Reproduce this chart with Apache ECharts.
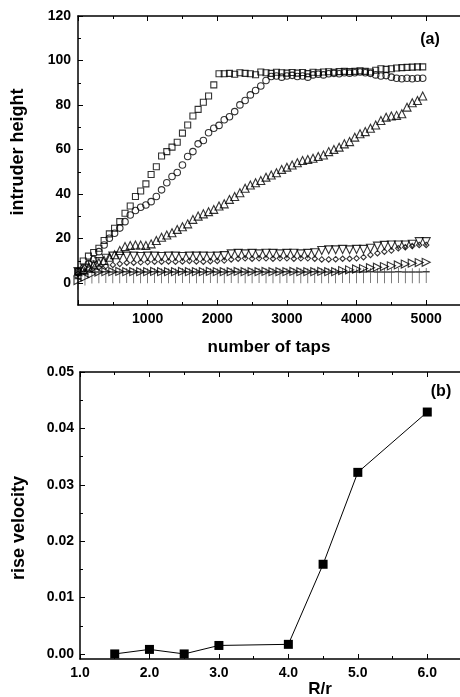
<!DOCTYPE html>
<html>
<head>
<meta charset="utf-8">
<script src="https://cdn.jsdelivr.net/npm/echarts@6/dist/echarts.min.js"></script>
<style>
  html, body { margin: 0; padding: 0; background: #fff; }
  #container { width: 460px; height: 697px; }
</style>
</head>
<body>
<div id="container"></div>
<script>
// panel (a): tap counts for the dense series (squares, circles, up triangles)
const tapsA = [0, 75, 150, 225, 300, 375, 450, 525, 600, 675,
    750, 825, 900, 975, 1050, 1125, 1200, 1275, 1350, 1425,
    1500, 1575, 1650, 1725, 1800, 1875, 1950, 2025, 2100, 2175,
    2250, 2325, 2400, 2475, 2550, 2625, 2700, 2775, 2850, 2925,
    3000, 3075, 3150, 3225, 3300, 3375, 3450, 3525, 3600, 3675,
    3750, 3825, 3900, 3975, 4050, 4125, 4200, 4275, 4350, 4425,
    4500, 4575, 4650, 4725, 4800, 4875, 4950];

const squares = [5, 9.8, 12, 13.6, 15.5, 19, 22, 24.5, 27.5, 31.3,
    34.5, 38.8, 41.3, 44.5, 48.7, 52.2, 57, 59, 61, 63.2,
    67.3, 71, 75, 78, 81.2, 84, 89, 94, 94, 94.2,
    93.8, 94.5, 94.2, 94, 93.6, 94.8, 94.5, 94.2, 94.7, 94.5,
    94.3, 94.6, 94.3, 94.6, 94.1, 94.7, 94.5, 94.8, 94.9, 94.7,
    95, 95.1, 95, 95.1, 95.3, 95.1, 94.8, 95.6, 96.3, 96,
    96.3, 96.6, 96.8, 96.9, 97, 97.1, 97.1];

const circles = [5, 6.5, 8.5, 10.5, 14, 17, 20, 22.3, 24.6, 27.5,
    30.5, 32.5, 34, 35, 36.5, 38.8, 41.8, 45, 47.8, 49.6,
    53, 56.8, 59, 62.5, 64, 67.5, 69.5, 70.8, 73.3, 74.7,
    77, 80, 82, 84.5, 86.5, 88.5, 91, 92.8, 93, 92.5,
    93, 93.3, 92.8, 93, 92.5, 93.5, 93.8, 93.5, 94, 94.2,
    94, 94.5, 94.3, 94.5, 94.8, 94.5, 94.2, 93.5, 93, 93.2,
    92.5, 92, 91.8, 92, 91.8, 92, 92];

const triUp = [5, 6, 7, 8, 9, 10, 11.5, 12.6, 14.5, 16.3,
    16.8, 17, 17, 16.8, 17.5, 19, 20.5, 21.5, 22.5, 24,
    25.2, 26.5, 28.5, 30, 31, 32, 33, 34.5, 35.5, 37.5,
    38.8, 40.5, 42.5, 44, 45, 46, 47.5, 48.5, 49.5, 51,
    52, 53, 54, 55, 55.5, 56, 56.8, 57.5, 59, 60,
    61, 62.5, 63.5, 65.5, 67, 68, 69.5, 71, 73, 74.5,
    75, 75.3, 76, 79, 81, 82, 84];

// panel (a): tap counts for the low series
const tapsB = [0, 100, 200, 300, 400, 500, 600, 700, 800, 900,
    1000, 1100, 1200, 1300, 1400, 1500, 1600, 1700, 1800, 1900,
    2000, 2100, 2200, 2300, 2400, 2500, 2600, 2700, 2800, 2900,
    3000, 3100, 3200, 3300, 3400, 3500, 3600, 3700, 3800, 3900,
    4000, 4100, 4200, 4300, 4400, 4500, 4600, 4700, 4800, 4900,
    5000];

const triDown = [5, 6.5, 8, 9.5, 11, 12, 12, 12, 12, 11.8,
    12, 12, 11.8, 12, 12, 11.8, 12, 12, 12, 11.9,
    12, 12.2, 13, 13.2, 13, 13.2, 13, 13.3, 13.2, 13,
    13.2, 13.3, 13, 13.2, 13.5, 14.5, 14.8, 14.8, 15, 14.8,
    15, 15, 15.5, 16.5, 16.8, 17, 17, 17, 17.3, 18.5,
    18.5];

const diamonds = [4, 5, 6, 7, 7.5, 8, 8.5, 9, 9, 9.2,
    9.3, 9.5, 9.5, 9.6, 9.5, 9.6, 9.8, 9.6, 9.5, 9.7,
    9.8, 10, 10.5, 10.8, 11, 10.8, 11, 11, 10.8, 11,
    11, 10.8, 11, 11, 10.8, 10.5, 10.5, 10.6, 10.8, 10.8,
    11, 11.5, 12.5, 13.3, 14, 14.5, 15.5, 16, 16.5, 17,
    17];

const triRight = [1, 2.5, 4, 4.8, 5, 5, 5.1, 5, 5, 5,
    5, 5.1, 5, 5, 5, 5.1, 5, 5, 5, 5.1,
    5, 5, 5, 5.1, 5, 5, 5, 5.1, 5, 5,
    5, 5.1, 5, 5, 5, 5.1, 5, 5, 5.5, 5.8,
    6.2, 6.4, 6.8, 7, 7.3, 7.6, 8, 8.4, 8.8, 9.1,
    9.2];

const pluses = [2, 4, 4.8, 5, 5.1, 5, 5, 5.1, 5, 5,
    5, 5.1, 5, 5, 5, 5.1, 5, 5, 5, 5.1,
    5, 5, 5.1, 5, 5, 5, 5.1, 5, 5, 5,
    5.1, 5, 5, 5, 5.1, 5, 5, 5, 5.1, 5,
    5, 5, 5.1, 5, 5, 5, 5.1, 5, 5, 5,
    5.1];

// panel (b)
const ratio = [1.5, 2.0, 2.5, 3.0, 4.0, 4.5, 5.0, 6.0];
const riseVelocity = [0.0000, 0.0008, 0.0000, 0.0015, 0.0017, 0.0159, 0.0322, 0.0429];

const FONT = '"Liberation Sans", Arial, sans-serif';
const black = '#000';

function pairs(xs, ys) {
    return xs.map((x, i) => [x, ys[i]]);
}

const tickStyle = {
    axisTick: { show: true, inside: true, length: 5, lineStyle: { color: black, width: 1 } },
    minorTick: { show: true, splitNumber: 2, length: 3, lineStyle: { color: black, width: 1 } },
    splitLine: { show: false },
    minorSplitLine: { show: false }
};
const lineStyle = { show: true, onZero: false, lineStyle: { color: black, width: 1.5 } };
const labelStyle = { color: black, fontFamily: FONT, fontWeight: 'bold', fontSize: 14 };

function hollow(name, symbol, size, xs, ys, extra) {
    return Object.assign({
        name: name,
        type: 'scatter',
        xAxisIndex: 0,
        yAxisIndex: 0,
        symbol: symbol,
        symbolSize: size,
        silent: true,
        itemStyle: { color: 'rgba(255,255,255,0)', borderColor: black, borderWidth: 1.1 },
        data: pairs(xs, ys)
    }, extra || {});
}

var dom = document.getElementById('container');
var myChart = echarts.init(dom, null, { renderer: 'canvas' });

var option = {
    animation: false,
    backgroundColor: '#fff',
    grid: [
        { left: 78, top: 16, width: 383, height: 289, outerBoundsMode: 'none' },
        { left: 78, top: 16, width: 383, height: 267, outerBoundsMode: 'none' },
        { left: 80, top: 372, width: 382, height: 287, outerBoundsMode: 'none' },
        { left: 80, top: 372, width: 382, height: 282, outerBoundsMode: 'none' }
    ],
    xAxis: [
        Object.assign({
            gridIndex: 0, type: 'value', position: 'bottom', min: 0, max: 5500, interval: 1000,
            axisLine: lineStyle,
            axisLabel: Object.assign({ margin: 7, formatter: v => (v >= 1000 && v <= 5000 ? String(v) : '') }, labelStyle)
        }, tickStyle),
        Object.assign({
            gridIndex: 0, type: 'value', position: 'top', min: 0, max: 5500, interval: 1000,
            axisLine: lineStyle, axisLabel: { show: false }
        }, tickStyle),
        { gridIndex: 1, type: 'value', show: false, min: 0, max: 1 },
        Object.assign({
            gridIndex: 2, type: 'value', position: 'bottom', min: 1, max: 6.5, interval: 1,
            axisLine: lineStyle,
            axisLabel: Object.assign({ margin: 7, formatter: v => (v <= 6 ? v.toFixed(1) : '') }, labelStyle)
        }, tickStyle),
        Object.assign({
            gridIndex: 2, type: 'value', position: 'top', min: 1, max: 6.5, interval: 1,
            axisLine: lineStyle, axisLabel: { show: false }
        }, tickStyle),
        { gridIndex: 3, type: 'value', show: false, min: 0, max: 1 }
    ],
    yAxis: [
        {
            gridIndex: 0, type: 'value', min: -10, max: 120,
            axisLine: lineStyle, axisTick: { show: false }, axisLabel: { show: false },
            splitLine: { show: false }
        },
        Object.assign({
            gridIndex: 1, type: 'value', min: 0, max: 120, interval: 20,
            axisLine: { show: false, onZero: false },
            axisLabel: Object.assign({ margin: 7 }, labelStyle)
        }, tickStyle),
        {
            gridIndex: 2, type: 'value', min: -0.0009, max: 0.05,
            axisLine: lineStyle, axisTick: { show: false }, axisLabel: { show: false },
            splitLine: { show: false }
        },
        Object.assign({
            gridIndex: 3, type: 'value', min: 0, max: 0.05, interval: 0.01,
            axisLine: { show: false, onZero: false },
            axisLabel: Object.assign({ margin: 6, formatter: v => v.toFixed(2) }, labelStyle)
        }, tickStyle)
    ],
    graphic: [
        { type: 'text', x: 18, y: 152, rotation: Math.PI / 2,
          style: { text: 'intruder height', fill: black, font: 'bold 18px ' + FONT, textAlign: 'center', textVerticalAlign: 'middle' } },
        { type: 'text', x: 269, y: 347,
          style: { text: 'number of taps', fill: black, font: 'bold 17px ' + FONT, textAlign: 'center', textVerticalAlign: 'middle' } },
        { type: 'text', x: 430, y: 40,
          style: { text: '(a)', fill: black, font: 'bold 16px ' + FONT, textAlign: 'center', textVerticalAlign: 'middle' } },
        { type: 'text', x: 19, y: 528, rotation: Math.PI / 2,
          style: { text: 'rise velocity', fill: black, font: 'bold 18px ' + FONT, textAlign: 'center', textVerticalAlign: 'middle' } },
        { type: 'text', x: 320, y: 689,
          style: { text: 'R/r', fill: black, font: 'bold 17px ' + FONT, textAlign: 'center', textVerticalAlign: 'middle' } },
        { type: 'text', x: 441, y: 392,
          style: { text: '(b)', fill: black, font: 'bold 16px ' + FONT, textAlign: 'center', textVerticalAlign: 'middle' } }
    ],
    series: [
        hollow('plus', 'path://M4,0L4,16M0,4L8,4', [7, 15], tapsB, pluses, { symbolOffset: [0, 4], itemStyle: { color: 'rgba(0,0,0,0)', borderColor: '#111', borderWidth: 1 } }),
        hollow('right', 'triangle', 8, tapsB, triRight, { symbolRotate: -90 }),
        hollow('diamond', 'diamond', 5.5, tapsB, diamonds),
        hollow('down', 'triangle', 8, tapsB, triDown, { symbolRotate: 180 }),
        hollow('up', 'triangle', 8, tapsA, triUp),
        hollow('circle', 'circle', 6.5, tapsA, circles),
        hollow('square', 'rect', 6, tapsA, squares),
        {
            name: 'rise velocity',
            type: 'line',
            xAxisIndex: 3,
            yAxisIndex: 2,
            symbol: 'rect',
            symbolSize: 9,
            silent: true,
            lineStyle: { color: black, width: 1 },
            itemStyle: { color: black },
            data: pairs(ratio, riseVelocity)
        }
    ]
};

myChart.setOption(option);
window.addEventListener('resize', myChart.resize);
</script>
</body>
</html>
